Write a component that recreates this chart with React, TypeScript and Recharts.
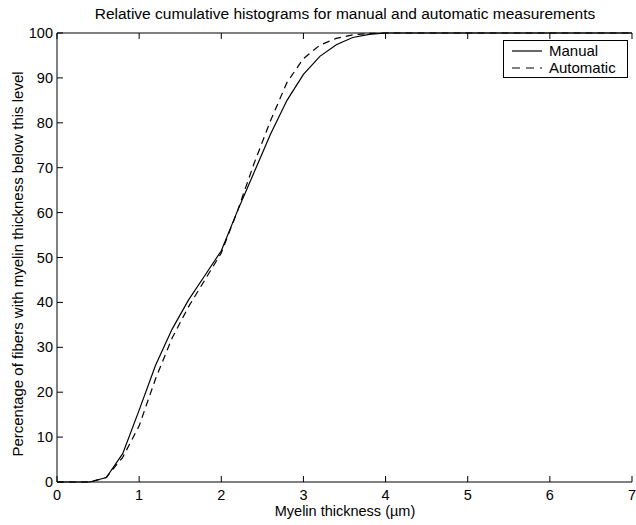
import React from "react";
import { LineChart, Line, XAxis, YAxis } from "recharts";

const thickness = [0, 0.2, 0.4, 0.6, 0.8, 1.0, 1.2, 1.4, 1.6, 1.8, 2.0, 2.2, 2.4, 2.6, 2.8, 3.0, 3.2, 3.4, 3.6, 3.8, 4.0, 7.0];
const manual = [0, 0, 0, 1, 6.3, 16, 26, 34, 40.5, 46, 51.5, 60.5, 69, 77.5, 85, 90.8, 94.8, 97.4, 99, 99.7, 100, 100];
const automatic = [0, 0, 0, 1, 5.5, 12.5, 23, 32, 39, 45, 51, 60.5, 71, 80.5, 89, 94.3, 97.3, 98.8, 99.6, 99.9, 100, 100];

const xTicks = [0, 1, 2, 3, 4, 5, 6, 7];
const yTicks = [0, 10, 20, 30, 40, 50, 60, 70, 80, 90, 100];

const data = thickness.map((t, i) => ({ t, manual: manual[i], automatic: automatic[i] }));

const FONT = "'Liberation Sans', Arial, sans-serif";
const TICK = 6;

const BottomTick = (props: any) => {
  const { x, y, payload } = props;
  return (
    <g>
      <line x1={x} y1={y} x2={x} y2={y - TICK} stroke="#000" />
      <text x={x} y={y + 18} textAnchor="middle" fontSize={14.5} fontFamily={FONT} fill="#000">
        {payload.value}
      </text>
    </g>
  );
};

const TopTick = (props: any) => {
  const { x, y } = props;
  return <line x1={x} y1={y} x2={x} y2={y + TICK} stroke="#000" />;
};

const LeftTick = (props: any) => {
  const { x, y, payload } = props;
  return (
    <g>
      <line x1={x} y1={y} x2={x + TICK} y2={y} stroke="#000" />
      <text x={x - 4} y={y + 5} textAnchor="end" fontSize={14.5} fontFamily={FONT} fill="#000">
        {payload.value}
      </text>
    </g>
  );
};

const RightTick = (props: any) => {
  const { x, y } = props;
  return <line x1={x} y1={y} x2={x - TICK} y2={y} stroke="#000" />;
};

export default function App() {
  return (
    <div style={{ position: "absolute", left: 0, top: 0, width: 636, height: 525, background: "#fff" }}>
      <LineChart width={636} height={525} data={data} margin={{ top: 0, right: 4, left: 0, bottom: 0 }}>
        <XAxis
          xAxisId="b"
          dataKey="t"
          type="number"
          domain={[0, 7]}
          ticks={xTicks}
          tickSize={0}
          tickMargin={0}
          tick={<BottomTick />}
          stroke="#000"
          height={43}
          interval={0}
        />
        <XAxis
          xAxisId="t"
          dataKey="t"
          type="number"
          orientation="top"
          domain={[0, 7]}
          ticks={xTicks}
          tickSize={0}
          tickMargin={0}
          tick={<TopTick />}
          stroke="#000"
          height={33}
          interval={0}
        />
        <YAxis
          yAxisId="l"
          type="number"
          domain={[0, 100]}
          ticks={yTicks}
          tickSize={0}
          tickMargin={0}
          tick={<LeftTick />}
          stroke="#000"
          width={57}
          interval={0}
        />
        <YAxis
          yAxisId="r"
          orientation="right"
          type="number"
          domain={[0, 100]}
          ticks={yTicks}
          tickSize={0}
          tickMargin={0}
          tick={<RightTick />}
          stroke="#000"
          width={0}
          interval={0}
        />
        <Line
          xAxisId="b"
          yAxisId="l"
          type="linear"
          dataKey="manual"
          stroke="#000"
          strokeWidth={1.2}
          dot={false}
          isAnimationActive={false}
        />
        <Line
          xAxisId="b"
          yAxisId="l"
          type="linear"
          dataKey="automatic"
          stroke="#000"
          strokeWidth={1.2}
          strokeDasharray="7 5"
          dot={false}
          isAnimationActive={false}
        />
        <text x={345} y={19} textAnchor="middle" fontSize={15.5} fontFamily={FONT} fill="#000">
          Relative cumulative histograms for manual and automatic measurements
        </text>
        <text x={345} y={516} textAnchor="middle" fontSize={14.5} fontFamily={FONT} fill="#000">
          Myelin thickness (µm)
        </text>
        <text
          x={23}
          y={264}
          textAnchor="middle"
          fontSize={15}
          fontFamily={FONT}
          fill="#000"
          transform="rotate(-90 23 264)"
        >
          Percentage of fibers with myelin thickness below this level
        </text>
      </LineChart>
      <div
        style={{
          position: "absolute",
          left: 503,
          top: 40,
          width: 125,
          height: 38,
          border: "1px solid #000",
          background: "#fff",
          boxSizing: "border-box",
        }}
      >
        <svg width={123} height={36} style={{ display: "block" }}>
          <line x1={8} y1={10} x2={38} y2={10} stroke="#000" strokeWidth={1.2} />
          <text x={45} y={15} fontSize={15} fontFamily={FONT}>Manual</text>
          <line x1={8} y1={27} x2={38} y2={27} stroke="#000" strokeWidth={1.2} strokeDasharray="8 6" />
          <text x={45} y={32} fontSize={15} fontFamily={FONT}>Automatic</text>
        </svg>
      </div>
    </div>
  );
}
